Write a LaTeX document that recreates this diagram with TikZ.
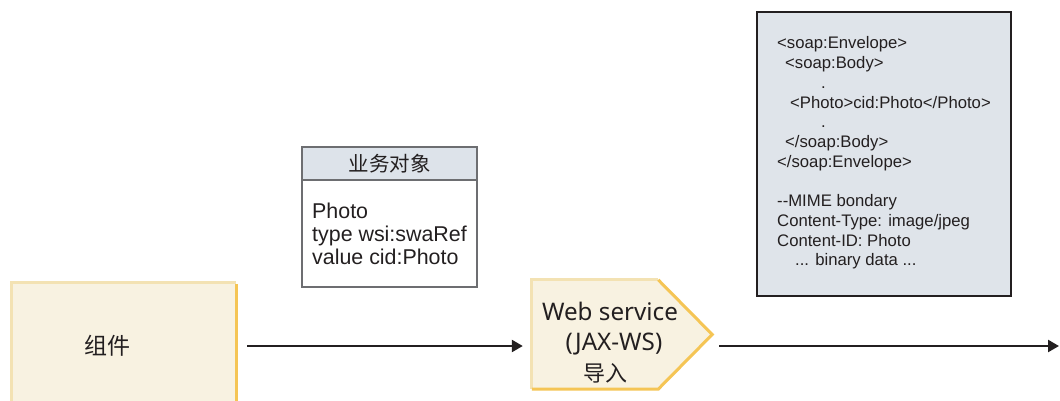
\documentclass[tikz,border=0pt]{standalone}
\usepackage{fontspec}
\setmainfont{Liberation Sans}
\newfontfamily\cjk{Noto Sans CJK SC}
\newfontfamily\wsfont{Noto Sans}
\usetikzlibrary{arrows.meta,calc}
\definecolor{compfill}{HTML}{F8F2E1}
\definecolor{complight}{HTML}{F3E2B3}
\definecolor{compdark}{HTML}{F5C555}
\definecolor{headfill}{HTML}{DDE3EA}
\definecolor{soapfill}{HTML}{DFE4EA}
\definecolor{ink}{HTML}{231F20}
\definecolor{boxline}{HTML}{6D6E71}
\begin{document}
\begin{tikzpicture}[x=1pt,y=-1pt,
  comp/.style={fill=compfill, draw=none, minimum width=224pt, minimum height=126pt, inner sep=0pt, font=\cjk\fontsize{23}{27}\selectfont, text=ink},
  wsbox/.style={draw=none, minimum width=180pt, minimum height=109pt, inner sep=0pt},
  wstext/.style={font=\wsfont\fontsize{24.2}{30}\selectfont, text=ink, align=center, inner sep=0pt},
  bobox/.style={draw=boxline, line width=1.2pt, fill=white, minimum width=175pt, minimum height=140pt, inner sep=0pt},
  bohead/.style={fill=headfill, draw=boxline, line width=1.2pt, minimum width=175pt, minimum height=33pt, inner sep=0pt, font=\cjk\fontsize{20.5}{24}\selectfont, text=ink},
  boline/.style={anchor=base west, inner sep=0pt, font=\fontsize{21.4}{23}\selectfont, text=ink},
  soapbox/.style={draw=ink, line width=1.4pt, fill=soapfill, minimum width=254pt, minimum height=284pt, inner sep=0pt},
  soapline/.style={anchor=base west, inner sep=0pt, font=\fontsize{16.7}{19.7}\selectfont, text=ink},
  conn/.style={draw=ink, line width=2.4pt, -{Triangle[length=11pt,width=12pt]}},
]
\useasboundingbox (0,0) rectangle (1060,401);
\clip (0,0) rectangle (1060,401);

% component
\node[comp] (comp) at (124,346) {组件\hspace*{34pt}};
\draw[complight, line width=3pt] (comp.south west) -- (comp.north west) -- (comp.north east);
\draw[compdark, line width=3pt] ([yshift=-1.5pt]comp.north east) -- (comp.south east);

% web service import
\node[wsbox] (ws) at (622,334.5) {};
\coordinate (wsnt) at ($(ws.north east)+(-54,0)$);
\coordinate (wsst) at ($(ws.south east)+(-54,0)$);
\fill[compfill] (ws.north west) -- (wsnt) -- (ws.east) -- (wsst) -- (ws.south west) -- cycle;
\draw[complight, line width=3pt] (ws.south west) -- (ws.north west) -- (wsnt);
\draw[compdark, line width=3pt] (wsnt) -- (ws.east) -- (wsst) -- (ws.south west);
\node[wstext, anchor=base] (wst1) at (610,320) {Web service};
\node[wstext, anchor=base] (wst2) at (614,350) {(JAX-WS)};
\node[wstext, anchor=base, font=\cjk\fontsize{22}{26}\selectfont] (wst3) at (605,381) {导入};

% business object
\node[bobox] (bo) at (389.5,217) {};
\node[bohead, anchor=north] (bohead) at (bo.north) {业务对象};
\node[boline] (bo1) at (312,218) {Photo};
\node[boline] (bo2) at (312,241) {type wsi:swaRef};
\node[boline] (bo3) at (312,264) {value cid:Photo};

% SOAP message
\node[soapbox] (soap) at (884,154) {};
\node[soapline] (s1) at (777,49) {<soap:Envelope>};
\node[soapline] (s2) at (785,68.7) {<soap:Body>};
\node[soapline] (s3) at (821,88.4) {.};
\node[soapline] (s4) at (790,108.1) {<Photo>cid:Photo</Photo>};
\node[soapline] (s5) at (821,127.8) {.};
\node[soapline] (s6) at (785,147.5) {</soap:Body>};
\node[soapline] (s7) at (777,167.2) {</soap:Envelope>};
\node[soapline] (s8) at (777,206.6) {-{}-MIME bondary};
\node[soapline] (s9) at (777,226.3) {Content-Type: image/jpeg};
\node[soapline] (s10) at (777,246) {Content-ID: Photo};
\node[soapline] (s11) at (795,265.7) {... binary data ...};

% connectors
\coordinate (end) at (1059,346);
\draw[conn, shorten <=11pt, shorten >=9pt] (comp.east) -- (comp.east -| ws.west);
\draw[conn, shorten <=7pt] (ws.east |- end) -- (end);
\end{tikzpicture}
\end{document}
